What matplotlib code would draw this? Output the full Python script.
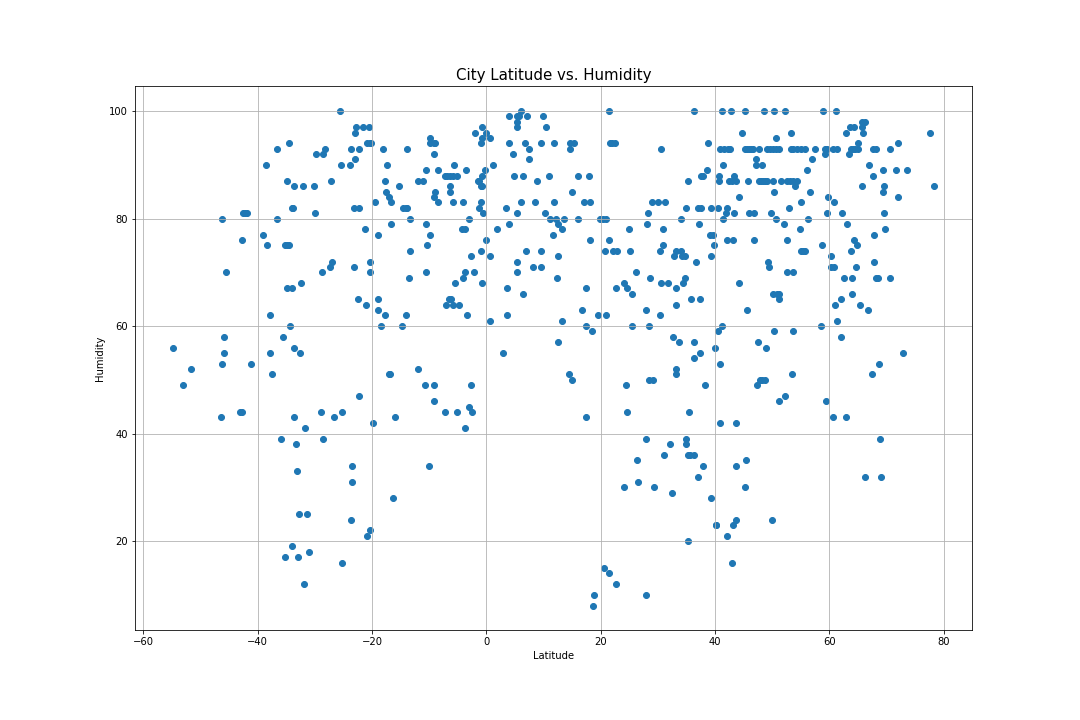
import matplotlib
matplotlib.use("Agg")
import matplotlib.pyplot as plt

title = "City Latitude vs. Humidity"
x_label = "Latitude"
y_label = "Humidity"

# (latitude, humidity), by region
south_upper = [
(-25.6,100),(-22.85,97),(-21.6,97),(-20.6,97),(-23.0,96),(-34.5,94),(-36.6,93),(-0.8,97),(-1.9,96),(0,96),
(-0.8,95),(0.6,95),(-1.0,94),(-9.9,95),(-9.8,94),(-9.2,94),(-8.9,94),(-9.1,92),(-20.8,94),(-20.4,94),(-20.1,94),
(-23.7,93),(-22.2,93),(-18.0,93),(-13.8,93),(-28.3,93),(-29.8,92),(-28.6,92),(-23.0,91),(-25.5,90),(-23.9,90),
(-38.5,90),(-17.3,90),(-10.6,89),(-8.4,89),(-3.5,89),(-0.2,89),(-5.6,90),(1.1,90),(-7.2,88),(-6.8,88),(-6.3,88),
(-5.8,88),(-5.2,88),(-0.8,88),(-1.5,87),(-1.2,87),(-1.0,86),(-0.8,86),(-34.9,87),(-27.2,87),(-17.8,87),(-11.9,87),
(-11.0,87),(-33.7,86),(-32.1,86),(-30.2,86),(-15.2,86),(-6.3,86),(-6.3,85),(-17.6,85),(-8.9,85),(-9.2,84),(-17.1,84),
(-16.6,83),(-19.5,83),(-8.5,83),(-5.8,83),(-4.0,83),(-1.0,83),(-34.0,82),(-33.8,82),(-23.2,82),(-22.2,82),(-14.5,82),
(-14.1,82),(-13.8,82),(-1.3,82),(-0.6,81),(-30.0,81),(-42.6,81),(-42.2,81),(-41.8,81),(-46.2,80),(-36.6,80),(-13.4,80),
(-3.0,80),(-16.6,79),(-10.5,79),(-21.3,78),(-4.2,78),(-3.8,78),(-39.1,77),(-19.0,77),(-9.8,77),(-42.7,76),(0,76),
(-38.4,75),(-35.2,75),(-34.9,75),(-34.5,75),(-10.3,75),(-13.3,74),(-1.0,74),(-2.6,73),(0.6,73),(-27.0,72),(-20.4,72),
(-27.4,71),(-23.2,71),(-45.5,70),(-28.8,70),(-20.4,70),(-10.5,70),(-3.7,70),(-2.1,70),(-13.6,69),(-4.0,69),
(-32.4,68),(-5.4,68),(-0.7,68),(-34.9,67),(-34.0,67),(-22.5,65),(-19.0,65),(-6.6,65),(-6.1,65),(-21.1,64),(-7.0,64),
(-5.9,64),(-4.7,64),(-19.0,63),(-37.9,62),(-17.8,62),(-14.0,62),(-3.3,62),(0.6,61),(-34.4,60),(-18.5,60),(-14.8,60),
(-45.9,58),(-35.6,58),(-54.8,56),(-33.7,56),(-45.9,55),(-37.9,55),(-32.6,55),
]
south_lower = [
(-46.2,53),(-41.2,53),(-51.6,52),(-37.5,51),(-53.0,49),(-22.3,47),(-12.0,52),(-17.1,51),(-16.9,51),(-10.8,49),
(-9.1,49),(-2.6,49),(-9.1,46),(-7.3,44),(-5.1,44),(-3.0,45),(-2.5,44),(-3.8,41),(-46.4,43),(-43.1,44),(-42.7,44),
(-33.7,43),(-29.0,44),(-26.7,43),(-25.3,44),(-15.9,43),(-31.7,41),(-19.9,42),(-35.9,39),(-28.6,39),(-33.3,38),
(-23.5,34),(-10.0,34),(-33.2,33),(-23.5,31),(-16.4,28),(-32.8,25),(-31.4,25),(-23.7,24),(-20.4,22),(-20.8,21),
(-34.0,19),(-31.0,18),(-35.2,17),(-33.0,17),(-25.3,16),(-31.9,12),
]
tropic_upper = [
(6.1,100),(21.4,100),(36.3,100),(4.0,99),(5.4,99),(5.8,99),(7.2,99),(10.0,99),(5.3,98),(5.4,97),(10.4,97),
(3.9,94),(6.7,94),(9.5,94),(11.8,94),(14.6,94),(15.3,94),(21.6,94),(22.0,94),(22.5,94),(38.8,94),(7.5,93),(14.7,93),
(30.5,93),(4.7,92),(7.5,91),(38.6,89),(4.9,88),(6.5,88),(10.9,88),(16.1,88),(17.9,88),(37.5,88),(37.9,88),
(8.9,87),(35.3,87),(14.9,85),(6.1,83),(8.6,83),(11.9,83),(17.0,83),(18.2,83),(28.9,83),(30.0,83),(31.2,83),
(3.5,82),(35.0,82),(37.0,82),(37.5,82),(39.3,82),(5.3,81),(10.2,81),(28.2,81),(11.1,80),(12.1,80),(13.5,80),(16.0,80),
(19.8,80),(20.4,80),(20.9,80),(34.0,80),(4.0,79),(12.5,79),(28.1,79),(37.2,79),(1.9,78),(13.2,78),(24.9,78),(30.9,78),
(11.6,77),(39.1,77),(39.6,77),(18.2,76),(21.4,76),(30.9,75),(39.8,75),(7.0,74),(9.5,74),(20.7,74),(22.1,74),(22.8,74),
(25.1,74),(30.4,74),(33.2,74),(34.0,74),(12.5,73),(32.8,73),(34.2,73),(34.7,73),(39.3,73),(5.4,72),(36.7,72),
(5.3,70),(8.1,71),(9.5,71),(26.1,70),(12.3,69),(28.6,69),(34.7,69),(24.0,68),(30.5,68),(31.8,68),(34.4,68),
(3.7,67),(17.5,67),(22.6,67),(24.6,67),(33.2,67),(6.5,66),(25.4,66),(35.8,65),(37.4,65),(33.2,64),(16.7,63),(27.9,63),
(3.7,62),(19.6,62),(20.9,62),(30.4,62),(13.3,61),(17.4,60),(25.4,60),(28.4,60),(18.4,59),(32.6,58),(12.5,57),
(33.7,57),(36.3,57),(3.0,55),(36.3,54),(37.4,55),
]
tropic_lower = [
(14.4,51),(14.9,50),(33.2,52),(33.2,51),(28.5,50),(29.2,50),(24.4,49),(38.2,49),(24.6,44),(35.4,44),(17.5,43),
(27.9,39),(35.0,39),(32.1,38),(34.9,38),(31.1,36),(35.3,36),(35.6,36),(36.3,36),(26.3,35),(37.9,34),(37.0,32),
(24.0,30),(26.5,31),(29.3,30),(32.5,29),(39.3,28),(40.2,23),(42.1,21),(35.3,20),(20.5,15),(21.4,14),(22.6,12),
(18.8,10),(27.9,10),(18.6,8),
]
north_upper = [
(41.2,100),(42.8,100),(45.2,100),(48.6,100),(50.3,100),(52.2,100),(58.9,100),(61.1,100),(66.3,98),(65.7,98),(65.7,97),
(63.6,97),(64.3,97),(65.9,96),(44.7,96),(53.3,96),(62.9,96),(77.6,96),(50.7,95),(72.0,94),(65.0,94),
(40.9,93),(41.6,93),(42.3,93),(42.7,93),(45.2,93),(45.6,93),(45.9,93),(46.3,93),(46.6,93),(47.7,93),(49.1,93),(49.6,93),
(50.1,93),(50.7,93),(51.2,93),(53.3,93),(53.6,93),(54.3,93),(55.0,93),(55.7,93),(57.5,93),(59.2,93),(59.6,93),(60.6,93),
(61.3,93),(63.8,93),(64.1,93),(64.5,93),(65.0,93),(67.6,93),(68.1,93),(70.6,93),(59.2,92),(63.4,92),(47.2,91),(56.9,91),
(47.2,90),(48.2,90),(41.4,90),(66.9,90),(56.1,89),(69.4,89),(71.6,89),(73.5,89),(40.7,88),(43.3,88),(67.6,88),
(40.7,87),(42.4,87),(43.0,87),(43.7,87),(45.8,87),(47.7,87),(48.0,87),(48.4,87),(48.7,87),(49.1,87),(50.1,87),(51.5,87),
(52.6,87),(53.1,87),(53.6,87),(54.3,87),(54.0,86),(65.7,86),(69.5,86),(78.3,86),(50.3,85),(56.6,85),(69.4,85),
(44.2,84),(59.7,84),(72.0,84),(55.0,83),(60.8,83),(40.5,82),(42.1,82),(52.9,82),(41.9,81),(43.3,81),(45.9,81),(46.8,81),
(49.8,81),(59.6,81),(62.2,81),(69.5,81),(41.4,80),(50.7,80),(56.2,80),(52.1,79),(63.1,79),(54.9,78),(69.7,78),
(67.8,77),(64.3,76),(42.1,76),(43.1,76),(46.8,76),(52.6,76),(64.8,75),(58.7,75),(55.0,74),(55.4,74),(55.7,74),(63.8,74),
(60.3,73),(49.3,72),(67.8,72),(49.4,71),(60.3,71),(60.8,71),(64.6,71),(52.6,70),(53.6,70),(44.2,68),(62.5,69),(63.9,69),
(68.1,69),(68.5,69),(70.6,69),(50.1,66),(50.8,66),(51.2,66),(63.9,66),(51.2,65),(62.0,65),(61.0,64),(65.3,64),
(45.6,63),(66.7,63),(61.3,61),(41.2,60),(58.5,60),(40.5,59),(50.3,59),(53.6,59),(62.0,58),(40.0,56),(47.5,57),(48.9,56),
(72.8,55),
]
north_lower = [
(40.9,53),(53.5,51),(67.4,51),(68.6,53),(47.3,49),(47.8,50),(48.3,50),(48.7,50),(51.2,46),(52.2,47),(59.5,46),
(60.6,43),(62.9,43),(43.7,42),(40.9,42),(68.8,39),(45.4,35),(43.7,34),(45.2,30),(66.2,32),(69.1,32),(43.7,24),
(50.0,24),(40.2,23),(43.1,23),(43.0,16),
]

groups = [south_upper, south_lower, tropic_upper, tropic_lower, north_upper, north_lower]
latitude = [p[0] for g in groups for p in g]
humidity = [p[1] for g in groups for p in g]

fig, ax = plt.subplots(figsize=(15, 10), dpi=72)
fig.subplots_adjust(bottom=0.1246)
fig.patch.set_facecolor("white")
ax.scatter(latitude, humidity)
ax.set_title(title, fontsize=15)
ax.set_xlabel(x_label)
ax.set_ylabel(y_label)
ax.grid(True)
fig.savefig("out.png", dpi=72)
